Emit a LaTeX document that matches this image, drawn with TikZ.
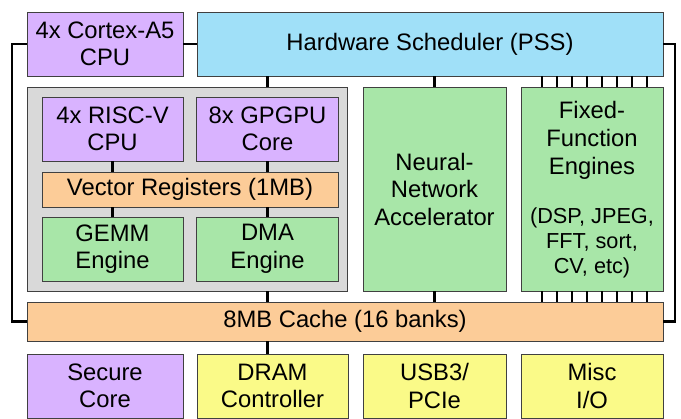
\documentclass[tikz,border=0pt]{standalone}
\usepackage{fontspec}
\setmainfont{Liberation Sans}
\begin{document}
\begin{tikzpicture}[x=1pt,y=-1pt,
  blk/.style={draw=black!75, line width=0.8pt, inner sep=0pt, align=center,
    font=\fontsize{23.8}{27.5}\selectfont},
  txt/.style={inner sep=0pt, align=center},
  wire/.style={line width=2.8pt, black},
  bus/.style={line width=2pt, black}]
\definecolor{cpurple}{RGB}{217,179,255}
\definecolor{cblue}{RGB}{160,224,248}
\definecolor{cgray}{RGB}{217,217,217}
\definecolor{cgreen}{RGB}{168,230,168}
\definecolor{corange}{RGB}{252,204,152}
\definecolor{cyellow}{RGB}{250,250,136}
\useasboundingbox (0,0) rectangle (681,419);
% top row
\node[blk, fill=cpurple, minimum width=156, minimum height=64] (cortex) at (105,44) {4x Cortex-A5\\CPU};
\node[blk, fill=cblue, minimum width=466, minimum height=64] (sched) at (430,44) {Hardware Scheduler (PSS)};
% gray cluster
\node[blk, fill=cgray, minimum width=320, minimum height=204] (gray) at (187,189) {};
\node[blk, fill=cpurple, minimum width=141, minimum height=64] (riscv) at (112.5,129) {4x RISC-V\\CPU};
\node[blk, fill=cpurple, minimum width=142, minimum height=64] (gpgpu) at (267.5,129) {8x GPGPU\\Core};
\node[blk, fill=corange, minimum width=296, minimum height=35] (vreg) at (190,189.5) {Vector Registers (1MB)};
\node[blk, fill=cgreen, minimum width=141, minimum height=64] (gemm) at (112.5,249) {GEMM\\Engine};
\node[blk, fill=cgreen, minimum width=142, minimum height=64] (dma) at (267.5,249) {DMA\\Engine};
% accelerators
\node[blk, fill=cgreen, minimum width=143, minimum height=204] (nna) at (434.5,189) {Neural-\\Network\\Accelerator};
\node[blk, fill=cgreen, minimum width=142, minimum height=204] (ff) at (592,189) {};
\node[txt, font=\fontsize{23.8}{28}\selectfont] (fftitle) at (592,140) {Fixed-\\Function\\Engines};
\node[txt, font=\fontsize{21.7}{25}\selectfont] (ffsub) at (592,243) {(DSP, JPEG,\\FFT, sort,\\CV, etc)};
% cache
\node[blk, fill=corange, minimum width=636, minimum height=39] (cache) at (345,321.5) {8MB Cache (16 banks)};
% bottom row
\node[blk, fill=cpurple, minimum width=156, minimum height=64] (secure) at (105,386) {Secure\\Core};
\node[blk, fill=cyellow, minimum width=151, minimum height=64] (dram) at (272.5,386) {DRAM\\Controller};
\node[blk, fill=cyellow, minimum width=143, minimum height=64] (usb) at (434.5,386) {USB3/\\PCIe};
\node[blk, fill=cyellow, minimum width=142, minimum height=64] (misc) at (592,386) {Misc\\I/O};
% connectors
\coordinate (lbus) at (12,44);
\coordinate (rbus) at (675,44);
\draw[wire] (cortex.east) -- (sched.west);
\draw[wire] (cortex.west) -- (lbus) |- (cache.west);
\draw[wire] (sched.east) -- (rbus) |- (cache.east);
\draw[wire] (sched.south -| gpgpu.north) -- (gray.north -| gpgpu.north);
\draw[wire] (sched.south -| nna.north) -- (nna.north);
\draw[wire] (riscv.south) -- (vreg.north -| riscv.south);
\draw[wire] (gpgpu.south) -- (vreg.north -| gpgpu.south);
\draw[wire] (vreg.south -| gemm.north) -- (gemm.north);
\draw[wire] (vreg.south -| dma.north) -- (dma.north);
\draw[wire] (gray.south -| dma.south) -- (cache.north -| dma.south);
\draw[wire] (nna.south) -- (cache.north -| nna.south);
\draw[wire] (cache.south -| dma.south) -- (dram.north -| dma.south);
\foreach \i in {0,...,7}{
  \draw[bus] ([xshift={-50.5+15*\i}]ff.north) -- ([xshift={-50.5+15*\i}]ff.north |- sched.south);
  \draw[bus] ([xshift={-50.5+15*\i}]ff.south) -- ([xshift={-50.5+15*\i}]ff.south |- cache.north);
}
\end{tikzpicture}
\end{document}
